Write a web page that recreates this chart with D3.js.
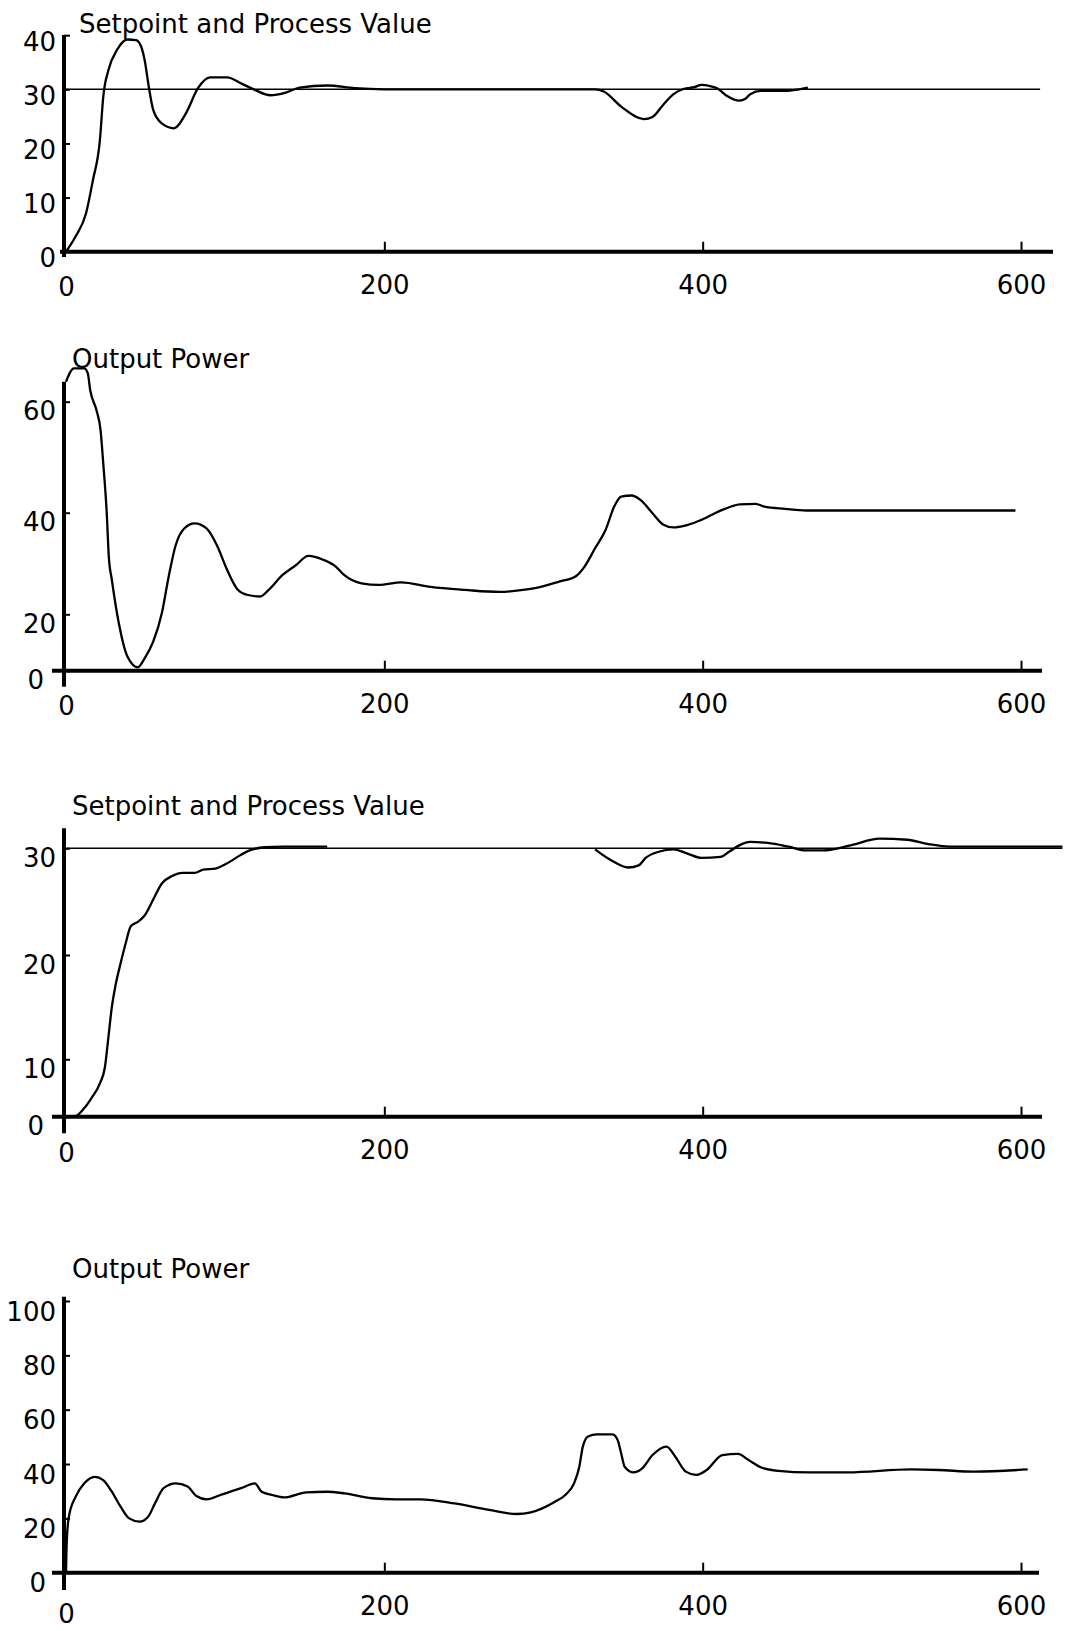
<!DOCTYPE html>
<html lang="en">
<head>
<meta charset="UTF-8">
<title>Setpoint, Process Value and Output Power</title>
<script src="https://cdn.jsdelivr.net/npm/d3@7"></script>
<style>
  body { margin: 0; background: #fff; }
  svg { display: block; }
  text { font-family: "DejaVu Sans", sans-serif; fill: #000; }
</style>
</head>
<body>
<script>
const xTicks = [0, 200, 400, 600];
const titles = ["Setpoint and Process Value", "Output Power", "Setpoint and Process Value", "Output Power"];

// chart 1 - setpoint and process value
const y1Ticks = [0, 10, 20, 30, 40];
const sp1Time = [0, 612];
const sp1Value = [30, 30];
const pv1Time = [0, 6, 12.6, 16.9, 21.3, 23.4, 26.7, 32.1, 38.6, 44, 47.2, 49.4, 52, 54.8, 60.2, 67.8, 75.4, 82.9, 90.5, 101.3,
  110, 118.6, 128.4, 138.1, 146.8, 164.1, 181.4, 200, 250, 300, 332.4, 337.9, 348.8, 363.1, 368.5, 375.1, 381.7, 388.3, 394.8, 399.2,
  404.7, 409.1, 414.6, 423.3, 426.6, 429.9, 436.5, 451.8, 460.6, 466.1];
const pv1Value = [0, 2.8, 7.1, 13.2, 20.6, 28.6, 33.6, 37.3, 39.2, 39.1, 37.9, 35.4, 30.5, 26.2, 23.7, 22.8, 25.6, 30.2, 32.2, 32.2,
  31.1, 29.9, 28.9, 29.4, 30.3, 30.7, 30.2, 30, 30, 30, 30, 29.6, 26.8, 24.5, 24.9, 27.1, 29.1, 30.1, 30.4, 30.8,
  30.6, 30.2, 28.9, 27.9, 28.2, 29.1, 29.7, 29.7, 30.0, 30.3];

// chart 2 - output power
const y2Ticks = [0, 20, 40, 60];
const out2Time = [0, 5, 11.5, 13.7, 15.2, 19.1, 21.7, 23.4, 25.6, 26.9, 28.8, 33.2, 38.6, 45.1, 49.4, 54.8, 60.2, 64.5, 68.9, 74.3,
  80.8, 88.3, 94.8, 101.3, 107.8, 114.3, 121.9, 127.3, 135.9, 144.6, 152.2, 161.9, 169.5, 174.9, 185.7, 196.5, 210.6, 229, 250.6, 272.2,
  289.6, 297, 309.4, 320.3, 325.8, 332.4, 339, 344.4, 348.8, 355.4, 360.9, 368.5, 375.1, 381.7, 388.3, 399.2, 412.4, 423.3, 433.2, 438.7,
  451.8, 465, 596.5];
const out2Value = [63.6, 66, 66, 65.1, 62.1, 58.5, 54.9, 48.9, 39.9, 31.3, 26.8, 16.8, 5, 1.2, 4.4, 10.3, 20.2, 27.4, 33.6, 36.9,
  37.9, 36.9, 33.6, 28.7, 24.9, 23.8, 23.5, 24.8, 27.7, 29.7, 31.5, 30.7, 29.4, 27.7, 26.1, 25.8, 26.3, 25.4, 24.8, 24.4,
  24.9, 25.3, 26.4, 27.5, 29.4, 33, 36.6, 41.1, 42.9, 43.1, 42.3, 39.9, 37.7, 37.1, 37.4, 38.6, 40.5, 41.5, 41.6, 41.1,
  40.7, 40.4, 40.4];

// chart 3 - setpoint and process value (null = gap in the trace)
const y3Ticks = [0, 10, 20, 30];
const sp3Time = [0, 626];
const sp3Value = [30, 30];
const pv3Time = [0, 5, 11.5, 15.9, 21.3, 24.5, 26.7, 28.8, 31, 34.3, 37.5, 40.7, 45.1, 49.4, 54.8, 60.2, 66.7, 73.2, 80.8, 86.2,
  93.8, 101.3, 110, 115.4, 125.1, 136, 164.1, 250, 332.4, 342.2, 353.2, 359.8, 364.2, 372.9, 381.7, 390.5, 399.2, 411.3, 416.8, 423.3,
  429.9, 440.9, 454, 465, 475.9, 493.5, 511, 528.5, 541.7, 554.8, 626];
const pv3Value = [0, 0, 1.5, 3.2, 5.8, 8.7, 12.2, 15, 17, 19.2, 21.1, 22.7, 23.1, 23.7, 25.2, 26.7, 27.4, 27.7, 27.7, 28,
  28.1, 28.6, 29.4, 29.8, 30.1, 30.15, 30.15, null, 29.9, 28.9, 28.2, 28.4, 29.1, 29.7, 29.9, 29.5, 29.1, 29.2, 29.7, 30.3,
  30.6, 30.5, 30.15, 29.8, 29.8, 30.3, 30.9, 30.8, 30.4, 30.15, 30.15];

// chart 4 - output power
const y4Ticks = [0, 20, 40, 60, 80, 100];
const out4Time = [0, 0.5, 1.8, 6.1, 11.5, 18, 23.4, 28.8, 34.3, 39.7, 46.2, 51.6, 55.9, 61.3, 68.9, 76.4, 81.9, 88.3, 97, 110,
  118.6, 122.9, 129.5, 137, 151.1, 164.1, 174.9, 192.2, 207.3, 222.5, 244.1, 265.8, 283.1, 292, 307.2, 313.7, 319.2, 322.5, 324.7, 328,
  333.5, 343.3, 346.6, 348.8, 351, 356.5, 362, 368.5, 377.3, 382.8, 389.4, 395.9, 402.5, 412.4, 422.2, 428.8, 436.5, 447.5, 467.2, 491.3,
  530.8, 548.3, 570.2, 604.2];
const out4Value = [0, 12, 20.6, 28, 32.9, 35.3, 34.1, 29.8, 24.3, 20, 18.8, 20.6, 25.5, 31.1, 32.9, 31.7, 28.2, 27, 28.6, 31.1,
  32.9, 29.8, 28.6, 27.7, 29.6, 29.8, 29.2, 27.4, 27, 27, 25.5, 23.1, 21.6, 22.2, 26.1, 28.6, 32.9, 39, 46.4, 50.1,
  50.9, 50.9, 48.8, 43.9, 39, 36.9, 38.4, 43.3, 46.4, 42.7, 37.2, 36, 37.8, 43.3, 43.7, 41.5, 38.8, 37.5, 36.9, 36.9,
  38, 37.8, 37.2, 38];

const width = 1067, height = 1631;
const svg = d3.select("body").append("svg")
  .attr("width", width)
  .attr("height", height);

const x = d3.scaleLinear().domain([0, 600]).range([66, 1021]);
const zip = (t, v) => t.map((d, i) => ({t: d, v: v[i]}));

// the original y axes are not evenly spaced, so charts 2 and 3 use piecewise scales
const panels = [
  {title: titles[0], titleX: 79, titleY: 33, base: 251.7, axisTop: 35, axisBottom: 257, xStart: 60, xEnd: 1053,
   y: d3.scaleLinear().domain([0, 30]).range([251.7, 89.3]), yTicks: y1Ticks, labelDy: 15, zeroDrop: 2, zeroX: -8,
   lines: [{data: zip(sp1Time, sp1Value), w: 1.6}, {data: zip(pv1Time, pv1Value), w: 2.3}]},
  {title: titles[1], titleX: 72, titleY: 368, base: 670.7, axisTop: 381.7, axisBottom: 686.7, xStart: 52, xEnd: 1042,
   y: d3.scaleLinear().domain([0, 20, 40, 60]).range([670.7, 614.3, 512.7, 401.7]), yTicks: y2Ticks, labelDy: 18, zeroDrop: 2, zeroX: -20,
   lines: [{data: zip(out2Time, out2Value), w: 2.3}]},
  {title: titles[2], titleX: 72, titleY: 815, base: 1116.7, axisTop: 828.3, axisBottom: 1133.3, xStart: 52, xEnd: 1042,
   y: d3.scaleLinear().domain([0, 10, 20, 30]).range([1116.7, 1059.3, 955, 848.3]), yTicks: y3Ticks, labelDy: 18, zeroDrop: 3, zeroX: -20,
   lines: [{data: zip(sp3Time, sp3Value), w: 1.6}, {data: zip(pv3Time, pv3Value), w: 2.3}]},
  {title: titles[3], titleX: 72, titleY: 1278, base: 1572.7, axisTop: 1296.7, axisBottom: 1590, xStart: 52, xEnd: 1039,
   y: d3.scaleLinear().domain([0, 100]).range([1572.7, 1301]), yTicks: y4Ticks, labelDy: 19, zeroDrop: 8, zeroX: -18,
   lines: [{data: zip(out4Time, out4Value), w: 2.3}]}
];

panels.forEach(p => {
  const g = svg.append("g").attr("class", "panel");
  const yAxisX = x(0) - 2;

  // x ticks (pointing up) and labels
  const xg = g.append("g")
    .attr("transform", `translate(0,${p.base})`)
    .call(d3.axisBottom(x).tickValues(xTicks).tickSize(-10).tickFormat(d3.format("d")));
  xg.select(".domain").remove();
  xg.attr("font-family", null).attr("font-size", 26);
  xg.selectAll(".tick line").attr("stroke-width", 2)
    .filter(d => d === 0).remove();
  xg.selectAll(".tick text")
    .attr("y", 0)
    .attr("dy", d => d === 0 ? 42 + p.zeroDrop : 42);

  // y ticks (pointing in) and labels
  const yg = g.append("g")
    .attr("transform", `translate(${yAxisX},0)`)
    .call(d3.axisLeft(p.y).tickValues(p.yTicks).tickSize(-6).tickPadding(8));
  yg.select(".domain").remove();
  yg.attr("font-family", null).attr("font-size", 26);
  yg.selectAll(".tick line").attr("stroke-width", 2);
  yg.selectAll(".tick text")
    .attr("dy", p.labelDy)
    .filter(d => d === 0).attr("x", p.zeroX);

  // heavy axis lines
  g.append("line")
    .attr("x1", p.xStart).attr("x2", p.xEnd)
    .attr("y1", p.base).attr("y2", p.base)
    .attr("stroke", "#000").attr("stroke-width", 4);
  g.append("line")
    .attr("x1", yAxisX).attr("x2", yAxisX)
    .attr("y1", p.axisTop).attr("y2", p.axisBottom)
    .attr("stroke", "#000").attr("stroke-width", 4);

  // traces
  const line = d3.line()
    .defined(d => d.v != null)
    .x(d => x(d.t))
    .y(d => p.y(d.v))
    .curve(d3.curveMonotoneX);
  g.selectAll("path.trace")
    .data(p.lines)
    .enter()
    .append("path")
    .attr("class", "trace")
    .attr("d", d => line(d.data))
    .attr("fill", "none")
    .attr("stroke", "#000")
    .attr("stroke-width", d => d.w)
    .attr("stroke-linejoin", "round");

  g.append("text")
    .attr("x", p.titleX)
    .attr("y", p.titleY)
    .attr("font-size", 26)
    .text(p.title);
});
</script>
</body>
</html>
